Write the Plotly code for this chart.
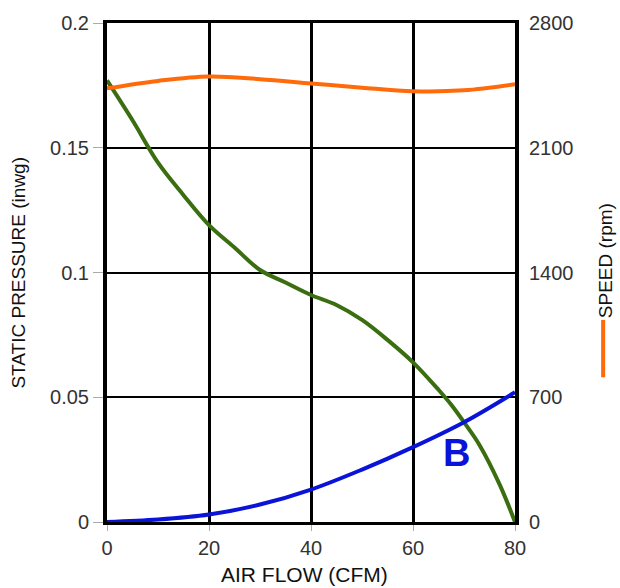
import plotly.graph_objects as go

flow = [0, 5, 10, 15, 20, 25, 30, 35, 40, 45, 50, 55, 60, 65, 67.5, 70, 73, 77, 80]
pressure = [0.177, 0.161, 0.144, 0.131, 0.119, 0.110, 0.101, 0.096, 0.091, 0.087, 0.081, 0.073, 0.064, 0.053, 0.047, 0.040, 0.031, 0.015, 0.0]

speed_flow = [0, 10, 20, 30, 40, 50, 60, 70, 80]
speed = [2433, 2475, 2500, 2485, 2461, 2437, 2417, 2422, 2456]

b_flow = [0, 10, 20, 30, 40, 50, 60, 70, 80]
b_curve = [0.0, 0.001, 0.003, 0.007, 0.013, 0.021, 0.030, 0.040, 0.052]

x_ticks = [0, 20, 40, 60, 80]
y_ticks = [0, 0.05, 0.1, 0.15, 0.2]
y_tick_text = ["0", "0.05", "0.1", "0.15", "0.2"]
y2_ticks = [0, 700, 1400, 2100, 2800]

font = "Liberation Sans, Arial, sans-serif"
title_col = "#111"

fig = go.Figure()
fig.add_trace(go.Scatter(x=flow, y=pressure, mode="lines",
                         line=dict(color="#3a6e10", width=4, shape="spline"), showlegend=False))
fig.add_trace(go.Scatter(x=b_flow, y=b_curve, mode="lines",
                         line=dict(color="#0a14d8", width=4, shape="spline"), showlegend=False))
fig.add_trace(go.Scatter(x=speed_flow, y=speed, mode="lines", yaxis="y2",
                         line=dict(color="#ff6a0a", width=4, shape="spline"), showlegend=False))

fig.add_annotation(x=68.5, y=0.0275, xref="x", yref="y", text="<b>B</b>", showarrow=False,
                   font=dict(family=font, size=38, color="#0a14d8"))

# axis titles
fig.add_annotation(x=-0.218, y=0.50, xref="paper", yref="paper", text="STATIC PRESSURE (inwg)",
                   textangle=-90, showarrow=False, xanchor="center", yanchor="middle",
                   font=dict(family=font, size=19, color=title_col))
fig.add_annotation(x=1.221, y=0.523, xref="paper", yref="paper", text="SPEED (rpm)",
                   textangle=-90, showarrow=False, xanchor="center", yanchor="middle",
                   font=dict(family=font, size=19, color=title_col))
fig.add_annotation(x=0.483, y=-0.105, xref="paper", yref="paper", text="AIR FLOW (CFM)",
                   showarrow=False, xanchor="center", yanchor="middle",
                   font=dict(family=font, size=21, color=title_col))

# orange legend swatch beside the speed axis title
fig.add_shape(type="line", xref="paper", yref="paper", x0=1.216, x1=1.216, y0=0.29, y1=0.405,
              line=dict(color="#ff6a0a", width=4))

fig.update_layout(
    width=620, height=588,
    margin=dict(l=107, r=105, t=18, b=66),
    plot_bgcolor="white", paper_bgcolor="white",
    font=dict(family=font, size=20, color="#333"),
    xaxis=dict(range=[0, 80], tickvals=x_ticks, showgrid=True, gridcolor="black", gridwidth=3,
               zeroline=False, showline=True, linecolor="black", linewidth=3, mirror=True,
               ticks="outside", ticklen=6, tickcolor="#aaa"),
    yaxis=dict(range=[0, 0.2], tickvals=y_ticks, ticktext=y_tick_text, showgrid=True,
               gridcolor="black", gridwidth=2, zeroline=False, showline=True, linecolor="black",
               linewidth=4, mirror=True, ticks="outside", ticklen=10, tickcolor="#aaa"),
    yaxis2=dict(range=[0, 2800], tickvals=y2_ticks, overlaying="y", side="right", showgrid=False,
                zeroline=False, showline=False, ticks="", ticklabelstandoff=13),
)

fig.write_html("out.html")
